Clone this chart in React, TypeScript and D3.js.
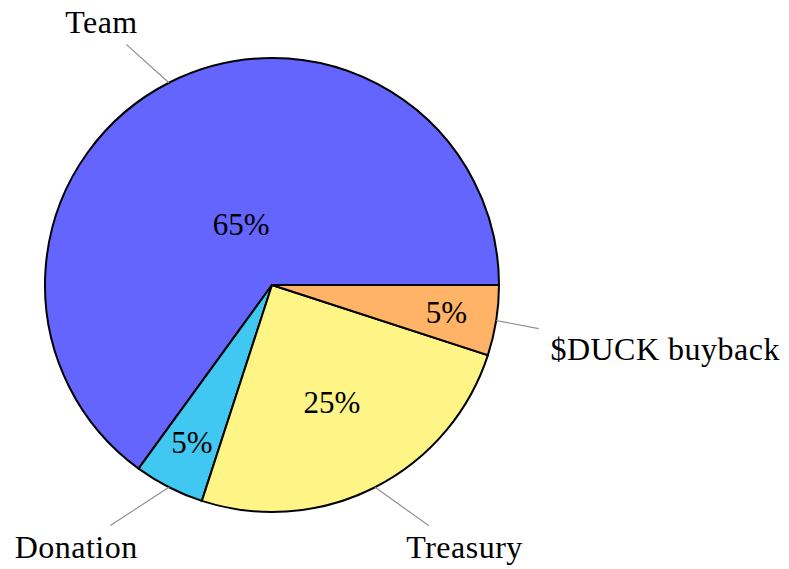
import React, { useEffect, useRef } from 'react';
import * as d3 from 'd3';

// slices go counter-clockwise from 3 o'clock, like pgf-pie
const categories = ['Team', 'Donation', 'Treasury', '$DUCK buyback'];
const shares = [65, 5, 25, 5];
const sliceColors = ['#6464ff', '#40c8f2', '#fff586', '#ffb366'];

const App: React.FC = () => {
  const svgRef = useRef<SVGSVGElement>(null);

  useEffect(() => {
    if (!svgRef.current) return;
    const svg = d3.select(svgRef.current);
    svg.selectAll('*').remove();

    const cx = 272;
    const cy = 285;
    const radius = 227;
    const font = "'Liberation Serif', 'Times New Roman', serif";
    const fontSize = 31;
    const labelSize = 32;
    const capH = 0.662 * labelSize;
    const pinDist = 43;
    const pad = 11.7;

    const pie = d3
      .pie<number>()
      .sort(null)
      .value(d => d)
      .startAngle(Math.PI / 2)
      .endAngle(Math.PI / 2 - 2 * Math.PI);
    const arcs = pie(shares);
    const arc = d3.arc<d3.PieArcDatum<number>>().innerRadius(0).outerRadius(radius);

    const g = svg.append('g').attr('transform', `translate(${cx},${cy})`);

    // slices
    g.selectAll('path.slice')
      .data(arcs)
      .enter()
      .append('path')
      .attr('class', 'slice')
      .attr('d', arc)
      .attr('fill', (d, i) => sliceColors[i])
      .attr('stroke', '#000')
      .attr('stroke-width', 2)
      .attr('stroke-linejoin', 'miter');

    // percentages inside the slices
    arcs.forEach(d => {
      const span = Math.abs(d.endAngle - d.startAngle) * 180 / Math.PI;
      const innerPos = Math.max(Math.min(-(span - 10) * 0.3 / 110, 0), -0.5) + 0.8;
      const mid = (d.startAngle + d.endAngle) / 2;
      const x = Math.sin(mid) * radius * innerPos;
      const y = -Math.cos(mid) * radius * innerPos;
      g.append('text')
        .attr('x', x)
        .attr('y', y + 0.34 * fontSize)
        .attr('text-anchor', 'middle')
        .style('font-family', font)
        .style('font-size', `${fontSize}px`)
        .style('fill', '#000')
        .text(`${d.data}%`);
    });

    // outer labels with pins
    arcs.forEach((d, i) => {
      const mid = (d.startAngle + d.endAngle) / 2;
      const dx = Math.sin(mid);
      const dy = -Math.cos(mid);
      const ex = dx * radius;
      const ey = dy * radius;
      const ax = ex + dx * pinDist;
      const ay = ey + dy * pinDist;
      const theta = (((90 - mid * 180 / Math.PI) % 360) + 360) % 360;

      let anchor = 'north west';
      if (theta === 0) anchor = 'west';
      else if (theta < 90) anchor = 'south west';
      else if (theta === 90) anchor = 'south';
      else if (theta < 180) anchor = 'south east';
      else if (theta === 180) anchor = 'east';
      else if (theta < 270) anchor = 'north east';
      else if (theta === 270) anchor = 'north';

      const label = categories[i];
      const txt = g.append('text')
        .style('font-family', font)
        .style('font-size', `${labelSize}px`)
        .style('letter-spacing', '0.5px')
        .style('fill', '#000')
        .text(label);
      const tw = (txt.node() as SVGTextElement).getComputedTextLength();
      const ascent = capH;
      const depth = /[gjpqy]/.test(label) ? 0.21 * labelSize : 0;

      let left: number;
      if (anchor.includes('west')) left = ax + pad;
      else if (anchor.includes('east')) left = ax - pad - tw;
      else left = ax - tw / 2;

      let baseline: number;
      if (anchor.startsWith('north')) baseline = ay + pad + ascent;
      else if (anchor.startsWith('south')) baseline = ay - pad - depth;
      else baseline = ay + (ascent - depth) / 2;

      txt.attr('x', left).attr('y', baseline);

      const top = baseline - ascent;
      const bottom = baseline + depth;
      const right = left + tw;
      const lcx = (left + right) / 2;
      const lcy = (top + bottom) / 2;

      // clip pin line at the padded label box
      const vx = lcx - ex;
      const vy = lcy - ey;
      const bx0 = left - pad;
      const bx1 = right + pad;
      const by0 = top - pad;
      const by1 = bottom + pad;
      const tx = vx !== 0 ? (vx > 0 ? (bx0 - ex) / vx : (bx1 - ex) / vx) : 0;
      const ty = vy !== 0 ? (vy > 0 ? (by0 - ey) / vy : (by1 - ey) / vy) : 0;
      const t = Math.max(0, Math.min(1, Math.max(tx, ty)));

      g.append('line')
        .attr('x1', ex)
        .attr('y1', ey)
        .attr('x2', ex + vx * t)
        .attr('y2', ey + vy * t)
        .attr('stroke', '#8c8c8c')
        .attr('stroke-width', 1.1);
    });
  }, []);

  return (
    <svg
      ref={svgRef}
      width={789}
      height={569}
      style={{ position: 'absolute', left: 0, top: 0, background: '#fff' }}
    />
  );
};

export default App;
